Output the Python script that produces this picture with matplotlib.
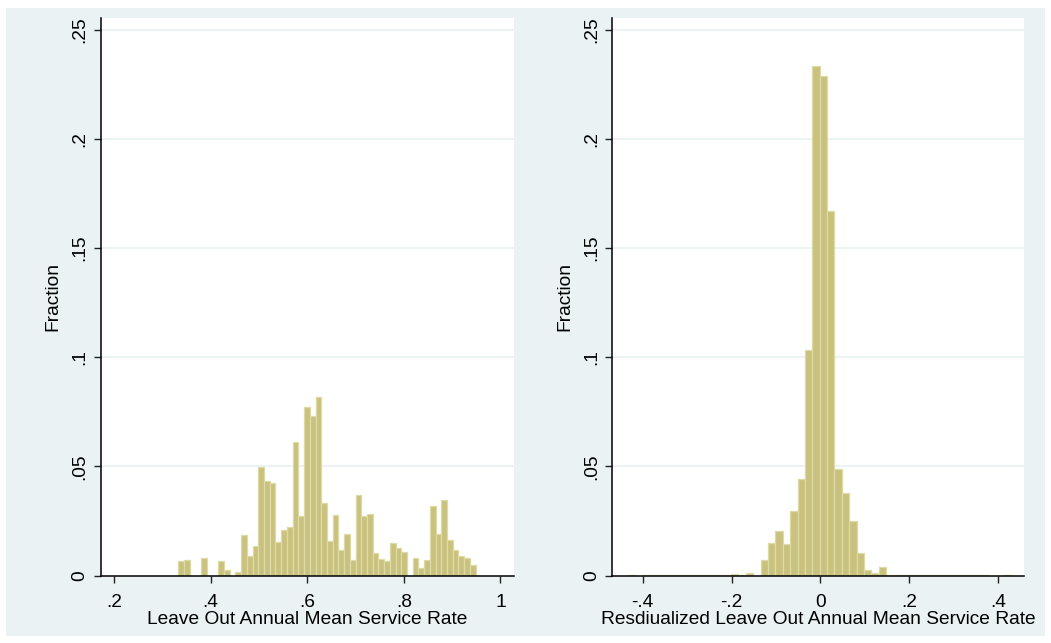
import numpy as np
import matplotlib
matplotlib.use("Agg")
import matplotlib.pyplot as plt
from matplotlib.patches import Rectangle

plt.rcParams['font.family'] = ['Liberation Sans', 'DejaVu Sans']

# ---------------- data ----------------
# Left panel: Leave Out Annual Mean Service Rate (52 bins)
left_bin_start = 0.3331
left_bin_width = 0.01184
left_fraction = [
    0.0065, 0.0070, 0.0, 0.0, 0.0078, 0.0, 0.0, 0.0065, 0.0026, 0.0,
    0.0018, 0.0187, 0.0090, 0.0137, 0.0498, 0.0434, 0.0423, 0.0154, 0.0210, 0.0221,
    0.0612, 0.0273, 0.0772, 0.0733, 0.0816, 0.0331, 0.0160, 0.0279, 0.0118, 0.0188,
    0.0073, 0.0369, 0.0273, 0.0280, 0.0104, 0.0076, 0.0067, 0.0150, 0.0124, 0.0107,
    0.0, 0.0082, 0.0035, 0.0069, 0.0320, 0.0192, 0.0348, 0.0162, 0.0118, 0.0088,
    0.0078, 0.0050,
]
left_xticks = [0.2, 0.4, 0.6, 0.8, 1.0]
left_xticklabels = ['.2', '.4', '.6', '.8', '1']
left_xlabel = 'Leave Out Annual Mean Service Rate'

# Right panel: Residualized measure (52 bins)
right_bin_start = -0.4338
right_bin_width = 0.01663
right_fraction = [
    0.0004, 0.0, 0.0002, 0.0002, 0.0002, 0.0002, 0.0002, 0.0002, 0.0002, 0.0002,
    0.0002, 0.0002, 0.0002, 0.0002, 0.0005, 0.0002, 0.0010, 0.0, 0.0073, 0.0147,
    0.0205, 0.0144, 0.0295, 0.0440, 0.1035, 0.2336, 0.2287, 0.1670, 0.0488, 0.0378,
    0.0251, 0.0101, 0.0023, 0.0012, 0.0041, 0.0002, 0.0002, 0.0002, 0.0002, 0.0002,
    0.0002, 0.0002, 0.0002, 0.0002, 0.0002, 0.0002, 0.0002, 0.0002, 0.0002, 0.0,
    0.0, 0.0003,
]
right_xticks = [-0.4, -0.2, 0.0, 0.2, 0.4]
right_xticklabels = ['-.4', '-.2', '0', '.2', '.4']
right_xlabel = 'Resdiualized Leave Out Annual Mean Service Rate'

yticks = [0, 0.05, 0.10, 0.15, 0.20, 0.25]
yticklabels = ['0', '.05', '.1', '.15', '.2', '.25']
ylabel = 'Fraction'

# ---------------- style ----------------
BG = '#EAF2F3'
BAR = '#C9C17E'
BAR_EDGE = '#DEDAA6'
FS = 13.8

W, H = 1051, 643
fig = plt.figure(figsize=(W / 100, H / 100), dpi=100)
fig.patch.set_facecolor('white')
fig.patches.append(Rectangle((6 / W, 7 / H), (W - 12) / W, (H - 15) / H,
                             transform=fig.transFigure, facecolor=BG,
                             edgecolor='none', zorder=-10))

def px_ax(l, r, top, bottom):
    return [l / W, 1 - bottom / H, (r - l) / W, (bottom - top) / H]

ax1 = fig.add_axes(px_ax(101, 514, 18, 575.5))
ax2 = fig.add_axes(px_ax(612.3, 1024.3, 18, 575.5))

def draw(ax, start, width, vals, xticks, xticklabels, xlabel, xlim):
    n = len(vals)
    edges = start + width * np.arange(n)
    ax.set_facecolor('white')
    for y in yticks[1:]:
        ax.axhline(y, color=BG, lw=1.3, zorder=0)
    ax.bar(edges, vals, width=width, align='edge', color=BAR,
           edgecolor=BAR_EDGE, linewidth=0.9, zorder=2)
    ax.set_xlim(*xlim)
    ax.set_ylim(0, 0.2555)
    ax.set_xticks(xticks)
    ax.set_xticklabels(xticklabels, fontsize=FS)
    ax.set_yticks(yticks)
    ax.set_yticklabels(yticklabels, fontsize=FS, rotation=90, va='center')
    ax.set_xlabel(xlabel, fontsize=FS, labelpad=0)
    ax.set_ylabel(ylabel, fontsize=FS, labelpad=7)
    for s in ['top', 'right']:
        ax.spines[s].set_visible(False)
    for s in ['left', 'bottom']:
        ax.spines[s].set_color('black')
        ax.spines[s].set_linewidth(1.1)
    ax.tick_params(axis='both', direction='out', length=5, width=1.0,
                   color='#222222', labelcolor='black')
    ax.tick_params(axis='x', pad=8.5)
    ax.tick_params(axis='y', pad=4)

draw(ax1, left_bin_start, left_bin_width, left_fraction,
     left_xticks, left_xticklabels, left_xlabel, (0.1731, 1.0282))
draw(ax2, right_bin_start, right_bin_width, right_fraction,
     right_xticks, right_xticklabels, right_xlabel, (-0.4685, 0.4595))

fig.savefig('out.png', dpi=100, facecolor=fig.get_facecolor())
